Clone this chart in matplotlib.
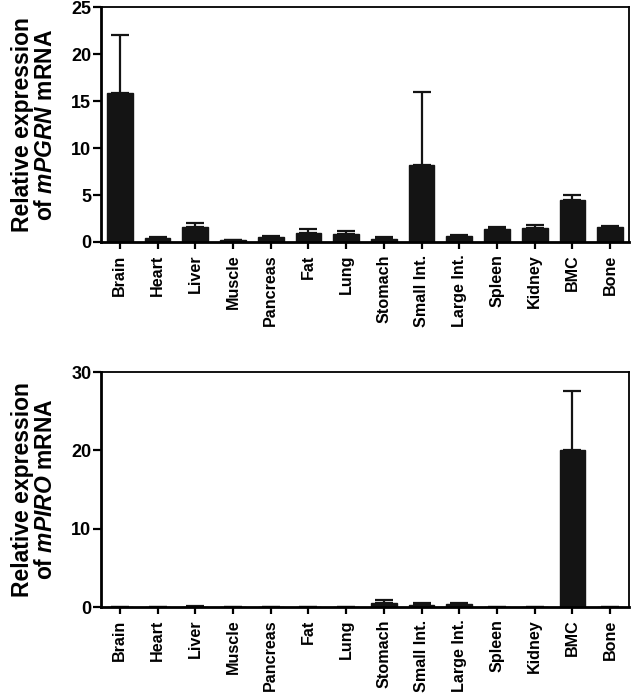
import matplotlib
matplotlib.use("Agg")
import matplotlib.pyplot as plt
import numpy as np

plt.rcParams['font.family'] = ['Liberation Sans', 'DejaVu Sans']
plt.rcParams['mathtext.fontset'] = 'custom'
plt.rcParams['mathtext.it'] = 'Liberation Sans:italic:bold'
plt.rcParams['mathtext.rm'] = 'Liberation Sans:bold'

tissues = ["Brain", "Heart", "Liver", "Muscle", "Pancreas", "Fat", "Lung",
           "Stomach", "Small Int.", "Large Int.", "Spleen", "Kidney", "BMC", "Bone"]

pgrn_mean = [15.9, 0.45, 1.55, 0.18, 0.5, 0.93, 0.86, 0.36, 8.2, 0.68, 1.39, 1.47, 4.46, 1.57]
pgrn_err = [6.1, 0.05, 0.52, 0.03, 0.1, 0.46, 0.29, 0.21, 7.8, 0.11, 0.21, 0.35, 0.54, 0.11]

piro_mean = [0.0, 0.0, 0.05, 0.0, 0.0, 0.0, 0.0, 0.55, 0.3, 0.35, 0.0, 0.0, 20.0, 0.0]
piro_err = [0.0, 0.0, 0.02, 0.0, 0.0, 0.0, 0.0, 0.3, 0.15, 0.2, 0.0, 0.0, 7.6, 0.0]

pgrn_ticks = [0, 5, 10, 15, 20, 25]
piro_ticks = [0, 10, 20, 30]

fig = plt.figure(figsize=(6.32, 6.95), dpi=100)
ax1 = fig.add_axes([0.1598, 0.6518, 0.8355, 0.3381])
ax2 = fig.add_axes([0.1598, 0.1266, 0.8355, 0.3381])

def draw(ax, means, errs, ticks, gene):
    x = np.arange(len(tissues))
    ax.bar(x, means, width=0.68, color='#141414', edgecolor='#141414', linewidth=1.0, zorder=2)
    ax.errorbar(x, means, yerr=[np.zeros(len(errs)), errs], fmt='none',
                ecolor='#141414', elinewidth=1.6, capsize=6.5, capthick=1.6, zorder=1)
    ax.set_xlim(-0.5, len(tissues) - 0.5)
    ax.set_ylim(0, ticks[-1])
    ax.set_yticks(ticks)
    ax.set_xticks(x)
    ax.set_xticklabels(tissues, rotation=90, fontsize=11.6, fontweight='bold')
    for lab in ax.get_yticklabels():
        lab.set_fontsize(13)
        lab.set_fontweight('bold')
    ax.tick_params(axis='y', direction='out', length=6, width=1.6, pad=1)
    ax.tick_params(axis='x', direction='out', length=5, width=1.6, pad=4)
    for side in ['left', 'bottom']:
        ax.spines[side].set_linewidth(2.0)
    for side in ['top', 'right']:
        ax.spines[side].set_linewidth(1.3)
    ax.set_ylabel("Relative expression\nof $\\it{" + gene + "}$ mRNA",
                  fontsize=16.5, fontweight='bold', linespacing=1.0)
    ax.yaxis.set_label_coords(-0.083, 0.5)

draw(ax1, pgrn_mean, pgrn_err, pgrn_ticks, "mPGRN")
draw(ax2, piro_mean, piro_err, piro_ticks, "mPIRO")

fig.savefig("out.png", dpi=100)
